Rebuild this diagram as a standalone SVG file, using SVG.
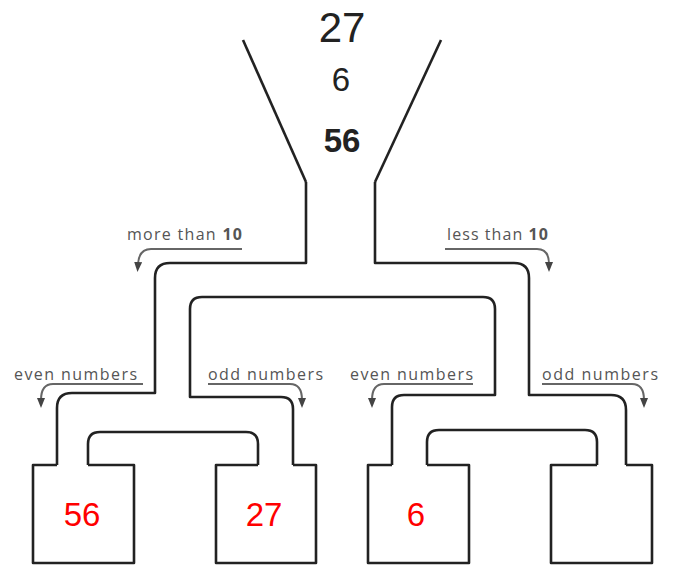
<svg xmlns="http://www.w3.org/2000/svg" width="675" height="565" viewBox="0 0 675 565">
<defs>
<marker id="ah" markerUnits="userSpaceOnUse" markerWidth="10" markerHeight="10" refX="2" refY="4" orient="auto">
<path d="M0,0 L10,4 L0,8 z" fill="#444"/>
</marker>
<style>
.w{fill:none;stroke:#222;stroke-width:2.6;stroke-linejoin:round}
.a{fill:none;stroke:#666;stroke-width:2;marker-end:url(#ah)}
.lb{font-family:"Open Sans","Liberation Sans",Arial,sans-serif;font-size:16px;fill:#555}
.top{font-family:"Liberation Sans",Arial,sans-serif;fill:#222;text-anchor:middle}
.red{font-family:"Liberation Sans",Arial,sans-serif;font-size:33px;fill:#f00;text-anchor:middle}
</style>
</defs>
<rect width="675" height="565" fill="#fff"/>
<g id="funnel">
<path class="w" d="M243,40 L306,182"/>
<path class="w" d="M441,40 L375,182"/>
<text class="top" x="342" y="42" font-size="42">27</text>
<text class="top" x="341" y="91" font-size="33">6</text>
<text class="top" x="342" y="152" font-size="33" font-weight="bold">56</text>
</g>
<g id="connectors">
<path class="w" d="M306,182 V263 H170 Q155,263 155,278 V393 H72 Q57,393 57,408 V465"/>
<path class="w" d="M88,465 V444 Q88,432 100,432 H246 Q258,432 258,444 V465"/>
<path class="w" d="M293,465 V409 Q293,397 281,397 H190 V309 Q190,297 202,297 H483 Q495,297 495,309 V395 H404 Q392,395 392,407 V465"/>
<path class="w" d="M427,465 V442 Q427,430 439,430 H585 Q597,430 597,442 V465"/>
<path class="w" d="M626,465 V410 Q626,395 611,395 H529 V278 Q529,263 514,263 H375 V182"/>
<path class="a" d="M242,249 H151 Q139,249 138,264"/>
<path class="a" d="M445,249 H537 Q549,249 549,264"/>
<path class="a" d="M143,384 H53 Q41,384 41,400"/>
<path class="a" d="M208,384 H290 Q302,384 302,400"/>
<path class="a" d="M473,384 H384 Q372,384 372,400"/>
<path class="a" d="M542,384 H632 Q644,384 644,400"/>
<text class="lb" x="127" y="240" textLength="115" lengthAdjust="spacing">more than <tspan font-weight="bold">10</tspan></text>
<text class="lb" x="447" y="240" textLength="101" lengthAdjust="spacing">less than <tspan font-weight="bold">10</tspan></text>
<text class="lb" x="14" y="380" textLength="123" lengthAdjust="spacing">even numbers</text>
<text class="lb" x="208" y="380" textLength="115" lengthAdjust="spacing">odd numbers</text>
<text class="lb" x="350" y="380" textLength="123" lengthAdjust="spacing">even numbers</text>
<text class="lb" x="542" y="380" textLength="116" lengthAdjust="spacing">odd numbers</text>
</g>
<g id="box1">
<path class="w" d="M57,465 H33 V563 H134 V465 H88"/>
<text class="red" x="82" y="526">56</text>
</g>
<g id="box2">
<path class="w" d="M258,465 H216 V563 H316 V465 H293"/>
<text class="red" x="264" y="526">27</text>
</g>
<g id="box3">
<path class="w" d="M392,465 H368 V563 H469 V465 H427"/>
<text class="red" x="416" y="526">6</text>
</g>
<g id="box4">
<path class="w" d="M597,465 H551 V563 H652 V465 H626"/>
</g>
</svg>
